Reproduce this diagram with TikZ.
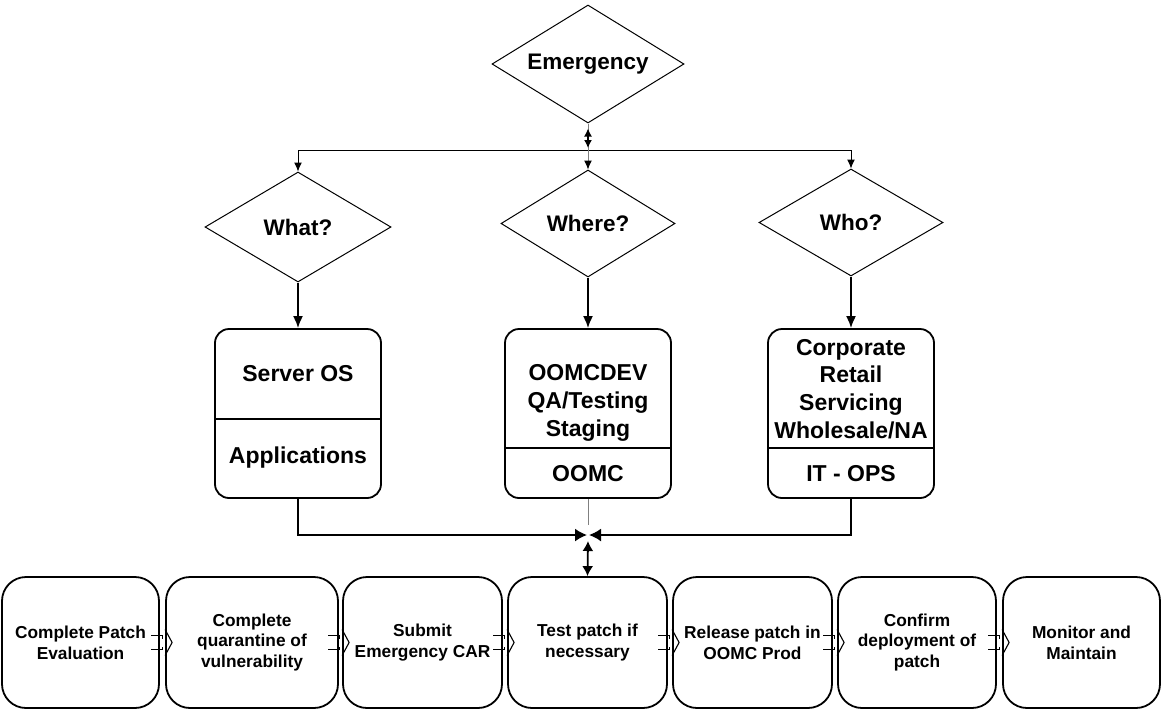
\documentclass[tikz,border=0pt]{standalone}
\usepackage{fontspec}
\setmainfont{Liberation Sans}
\usetikzlibrary{shapes.geometric,arrows.meta,calc}
\begin{document}
\begin{tikzpicture}[x=1pt,y=-1pt,
  dia/.style={diamond, draw, line width=1pt, inner sep=0pt, aspect=1.7,
    font=\fontsize{22.5}{27}\selectfont\bfseries},
  topbox/.style={draw, line width=1.8pt, rounded corners=14pt,
    minimum width=166pt, minimum height=169pt, inner sep=0pt},
  lbl/.style={font=\fontsize{23}{27.7}\selectfont\bfseries, align=center, inner sep=0pt},
  stepbox/.style={draw, line width=1.8pt, rounded corners=24pt,
    minimum height=131pt, inner sep=0pt, align=center,
    font=\fontsize{17.3}{20.7}\selectfont\bfseries},
  thinarrow/.style={line width=1pt, -{Latex[length=9pt,width=8pt]}},
  medarrow/.style={line width=1.8pt, -{Latex[length=12pt,width=10pt]}},
  joinarrow/.style={line width=1.8pt, -{Latex[length=12pt,width=13pt]}},
  fatarrow/.style={line width=1.1pt}
]
\fill[white] (0,0) rectangle (1162,710);
\useasboundingbox (0,0) rectangle (1162,710);

% decision diamonds
\node[dia, minimum width=192pt, minimum height=118pt] (emg) at (588,64) {Emergency};
\node[dia, minimum width=186pt, minimum height=110pt] (what) at (298,227) {What?};
\node[dia, minimum width=174pt, minimum height=107pt] (where) at (588,223.5) {Where?};
\node[dia, minimum width=184pt, minimum height=107pt] (who) at (851,222.5) {Who?};

% category boxes
\node[topbox] (server) at (298,413.5) {};
\node[topbox] (oomc) at (588,413.5) {};
\node[topbox] (whobox) at (851,413.5) {};
\draw[line width=1.8pt] (215,419) -- (381,419);
\draw[line width=1.8pt] (505,448) -- (671,448);
\draw[line width=1.8pt] (768,448) -- (934,448);

\node[lbl] (s1) at (298,374) {Server OS};
\node[lbl] (s2) at (298,458) {Applications};
\node[lbl] (o1) at (588,403) {OOMCDEV\\QA/Testing\\Staging};
\node[lbl] (o2) at (588,474) {OOMC};
\node[lbl] (w1) at (851,389) {Corporate\\Retail\\Servicing\\Wholesale/NA};
\node[lbl] (w2) at (851,474) {IT - OPS};

% process steps
\node[stepbox, minimum width=157pt] (b1) at (80.5,642.5) {Complete Patch\\Evaluation};
\node[stepbox, minimum width=172pt] (b2) at (252,642.5) {Complete\\quarantine of\\vulnerability};
\node[stepbox, minimum width=159pt] (b3) at (422.5,642.5) {Submit\\Emergency CAR};
\node[stepbox, minimum width=159pt] (b4) at (587.5,642.5) {Test patch if\\necessary};
\node[stepbox, minimum width=159pt] (b5) at (752.5,642.5) {Release patch in\\OOMC Prod};
\node[stepbox, minimum width=158pt] (b6) at (917,642.5) {Confirm\\deployment of\\patch};
\node[stepbox, minimum width=157pt] (b7) at (1081.5,642.5) {Monitor and\\Maintain};

% junctions
\coordinate (ja) at (588,150);
\coordinate (jb) at (588,535);
\coordinate (gend) at (588,525);

% top fan-out
\draw[gray, line width=1pt] (emg.south) -- (ja);
\draw[line width=1.4pt, {Latex[length=8pt,width=8pt]}-{Latex[length=8pt,width=8pt]}]
  ($(emg.south)+(0,5)$) -- ($(ja)+(0,-2)$);
\draw[thinarrow] (ja) -| (what.north);
\draw[thinarrow] (ja) -| (who.north);
\draw[gray, line width=1pt, -{Latex[length=9pt,width=8pt,black]}] (ja) -- (where.north);

% diamonds to boxes
\draw[medarrow] (what.south) -- (server.north);
\draw[medarrow] (where.south) -- (oomc.north);
\draw[medarrow] (who.south) -- (whobox.north);

% fan-in to the process row
\draw[gray, line width=1pt] (oomc.south) -- (gend);
\draw[joinarrow] (server.south) |- ($(jb)+(-1,0)$);
\draw[joinarrow] (whobox.south) |- ($(jb)+(1,0)$);
\draw[line width=1.8pt, {Latex[length=10pt,width=11pt]}-{Latex[length=10pt,width=11pt]}]
  ($(jb)+(0,6)$) -- (b4.north);

% hollow links between steps
\foreach \p/\n in {b1/b2,b2/b3,b3/b4,b4/b5,b5/b6,b6/b7}{
  \draw[fatarrow] ($(\n.west)+(-14,-7)$) -- ($(\n.west)+(-3,-7)$) -- ($(\n.west)+(-3,-4)$);
  \draw[fatarrow] ($(\n.west)+(-14,7)$) -- ($(\n.west)+(-3,7)$) -- ($(\n.west)+(-3,4)$);
  \draw[fatarrow, line join=miter] ($(\n.west)+(0,-13)$) -- ($(\n.west)+(7,0)$) -- ($(\n.west)+(0,13)$);
}
\end{tikzpicture}
\end{document}
